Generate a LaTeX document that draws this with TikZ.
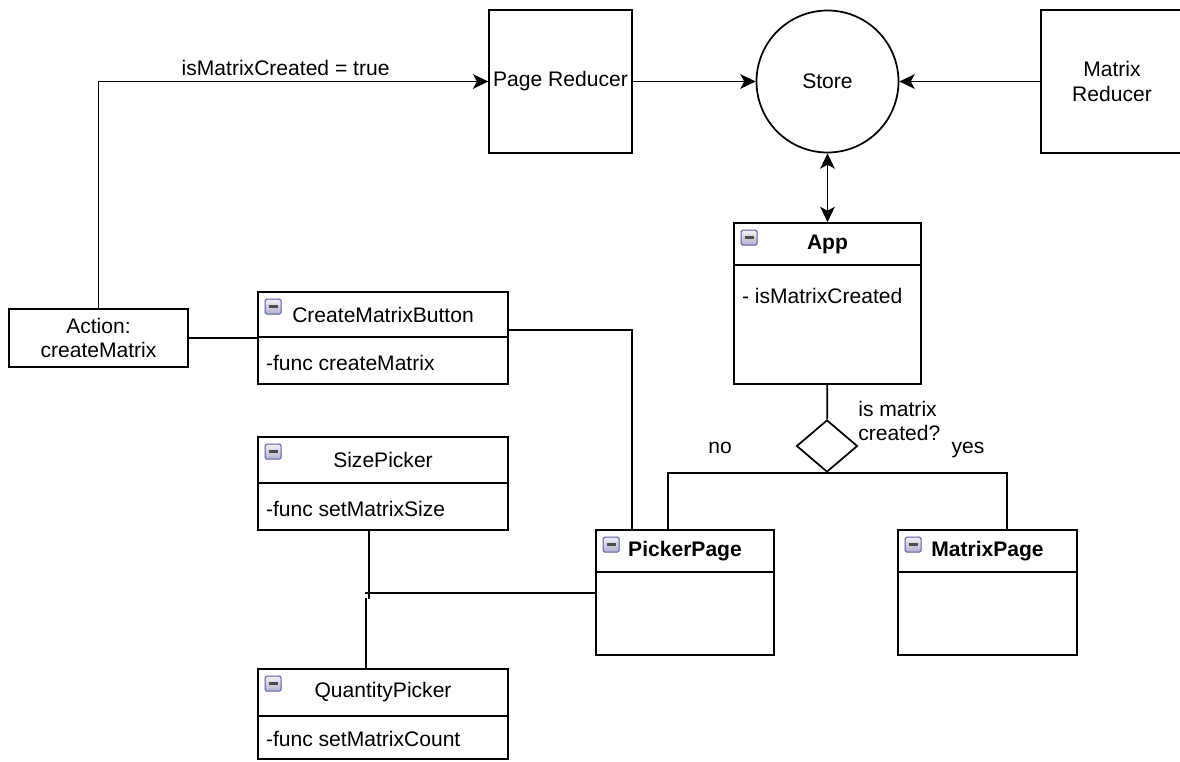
\documentclass[tikz,border=0pt]{standalone}
\usepackage{fontspec}
\setmainfont{Liberation Sans}
\usetikzlibrary{shapes.geometric,arrows.meta,calc}

\begin{document}
\begin{tikzpicture}[x=0.75pt,y=-0.75pt,line width=1.3pt,
    font=\fontsize{15.8}{18.5}\selectfont,
    cbox/.style={draw,rectangle,inner sep=2pt,align=center},
    cbody/.style={cbox,anchor=north,yshift=1.3pt},
    ptxt/.style={anchor=west,inner sep=3pt},
    arr/.style={-{Stealth[length=11.5pt,width=11pt,inset=3pt]}},
    darr/.style={{Stealth[length=11.5pt,width=11pt,inset=3pt]}-{Stealth[length=11.5pt,width=11pt,inset=3pt]}},
    foldicon/.pic={
      \draw[line width=0.7pt,draw=gray!70!blue,rounded corners=1.2pt,
        top color=blue!5!gray!10,bottom color=blue!25!gray!50] (0,0) rectangle (16,15) ;
      \draw[line width=2.2pt,draw=black!70] (3.5,7.5) -- (12.5,7.5) ;
    }]
      \useasboundingbox (0,0) rectangle (1180,761) ;
      % reducers and store
      \node[cbox,minimum width=107pt,minimum height=107pt] (pagered) at (560.5,81.5) {Page Reducer} ;
      \node[cbox,circle,minimum size=106.5pt] (store) at (827.5,81.5) {Store} ;
      \node[cbox,minimum width=106.5pt,minimum height=107pt] (matrixred) at (1112,81.5) {Matrix\\Reducer} ;
      \node[cbox,minimum width=134pt,minimum height=43.5pt] (action) at (98.5,338) {Action:\\createMatrix} ;
      % components
      \node[cbox,minimum width=187.5pt,minimum height=33.75pt] (cmbhead) at (383,314.5) {CreateMatrixButton} ;
      \node[cbody,minimum width=187.5pt,minimum height=35.25pt] (cmbbody) at (cmbhead.south) {} ;
      \node[ptxt] (cmbfunc) at ($(cmbbody.west)+(4,2)$) {-func createMatrix} ;
      \node[cbox,minimum width=187.5pt,minimum height=34.5pt] (sizehead) at (383,460) {SizePicker} ;
      \node[cbody,minimum width=187.5pt,minimum height=35.25pt] (sizebody) at (sizehead.south) {} ;
      \node[ptxt] (sizefunc) at ($(sizebody.west)+(4,2)$) {-func setMatrixSize} ;
      \node[cbox,minimum width=187.5pt,minimum height=35.25pt] (qhead) at (383,692.5) {QuantityPicker} ;
      \node[cbody,minimum width=187.5pt,minimum height=32.25pt] (qbody) at (qhead.south) {} ;
      \node[ptxt] (qfunc) at ($(qbody.west)+(4,1.5)$) {-func setMatrixCount} ;
      \node[cbox,minimum width=140.25pt,minimum height=31.5pt] (apphead) at (827.5,244) {\textbf{App}} ;
      \node[cbody,minimum width=140.25pt,minimum height=89.25pt] (appbody) at (apphead.south) {} ;
      \node[ptxt] (appattr) at ($(appbody.north west)+(4,32)$) {- isMatrixCreated} ;
      \node[cbox,minimum width=133.5pt,minimum height=31.5pt] (pickhead) at (685,551) {\textbf{PickerPage}} ;
      \node[cbody,minimum width=133.5pt,minimum height=62.25pt] (pickbody) at (pickhead.south) {} ;
      \node[cbox,minimum width=134.25pt,minimum height=31.5pt] (mpagehead) at (987.5,551) {\textbf{MatrixPage}} ;
      \node[cbody,minimum width=134.25pt,minimum height=62.25pt] (mpagebody) at (mpagehead.south) {} ;
      \foreach \c in {cmbhead,sizehead,qhead,apphead,pickhead,mpagehead}
        \pic at ($(\c.north west)+(8,8)$) {foldicon} ;
      % decision
      \node[draw,diamond,minimum width=45.75pt,minimum height=39pt,inner sep=0pt] (dec) at (827,446) {} ;
      \node[anchor=west,align=left] (isq) at (853,421) {is matrix\\created?} ;
      \node (nolbl) at (720,448) {no} ;
      \node (yeslbl) at (968,450) {yes} ;
      % connectors
      \draw[arr] (action.north) |- (pagered.west) node[pos=0.74,above] (setlbl) {isMatrixCreated = true} ;
      \draw[arr] (pagered) -- (store) ;
      \draw[arr] (matrixred) -- (store) ;
      \draw[darr] (store) -- (apphead) ;
      \draw (appbody) -- (dec) ;
      \draw ($(pickhead.north)+(-17,0)$) |- (dec.south) -| ($(mpagehead.north)+(19.5,0)$) ;
      \draw (action.east) -- (action.east -| cmbbody.west) ;
      \draw ($(cmbhead.east)+(0,15.5)$) -| ($(pickhead.north)+(-53,0)$) ;
      \draw ($(sizebody.south)+(-14,0)$) -- ++(0,68) ;
      \draw ($(pickbody.west)+(0,-20.5)$) -- ++(-230,0) ;
      \draw ($(qhead.north)+(-17,0)$) -- ++(0,-70) ;
\end{tikzpicture}
\end{document}
